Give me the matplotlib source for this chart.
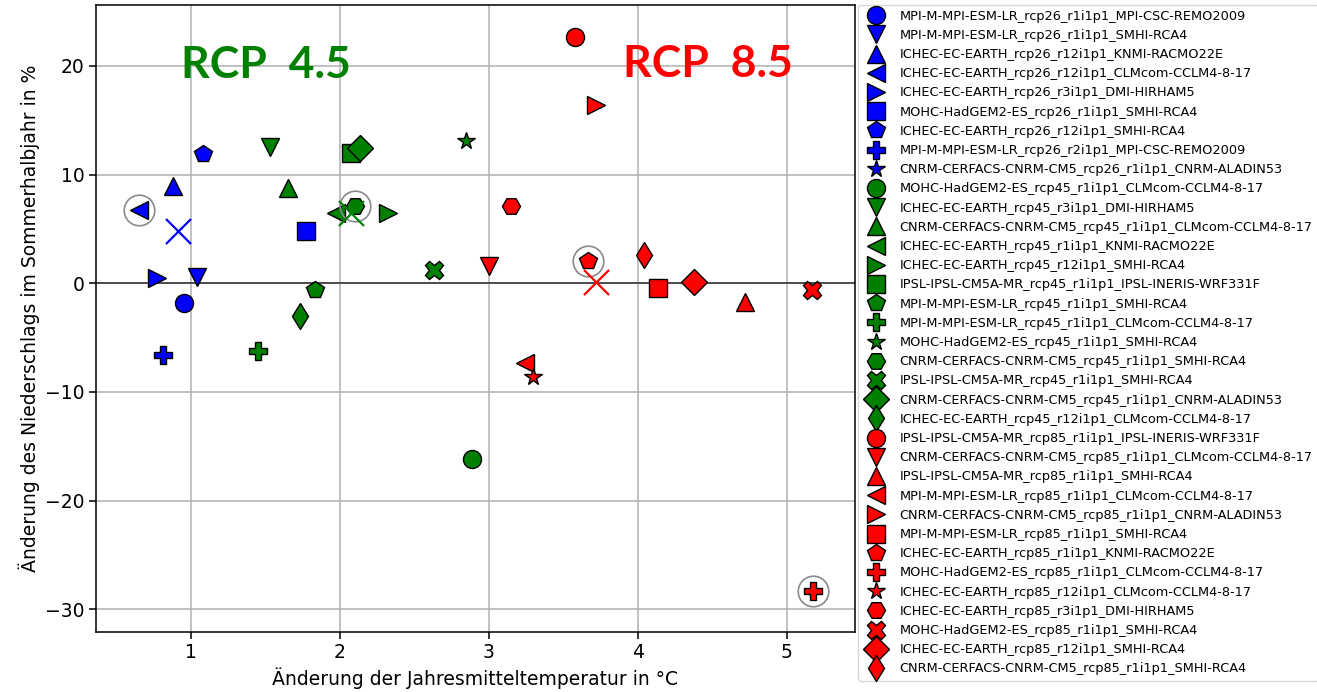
import numpy as np
import matplotlib.pyplot as plt

# RCP 2.6 (blau)
rcp26_models = [
    "MPI-M-MPI-ESM-LR_rcp26_r1i1p1_MPI-CSC-REMO2009",
    "MPI-M-MPI-ESM-LR_rcp26_r1i1p1_SMHI-RCA4",
    "ICHEC-EC-EARTH_rcp26_r12i1p1_KNMI-RACMO22E",
    "ICHEC-EC-EARTH_rcp26_r12i1p1_CLMcom-CCLM4-8-17",
    "ICHEC-EC-EARTH_rcp26_r3i1p1_DMI-HIRHAM5",
    "MOHC-HadGEM2-ES_rcp26_r1i1p1_SMHI-RCA4",
    "ICHEC-EC-EARTH_rcp26_r12i1p1_SMHI-RCA4",
    "MPI-M-MPI-ESM-LR_rcp26_r2i1p1_MPI-CSC-REMO2009",
    "CNRM-CERFACS-CNRM-CM5_rcp26_r1i1p1_CNRM-ALADIN53",
]
rcp26_dT = [0.95, 1.04, 0.88, 0.65, 0.775, 1.77, 1.08, 0.81, 0.91]
rcp26_dP = [-1.85, 0.6, 8.95, 6.7, 0.52, 4.76, 11.85, -6.65, 28.0]

# RCP 4.5 (gruen)
rcp45_models = [
    "MOHC-HadGEM2-ES_rcp45_r1i1p1_CLMcom-CCLM4-8-17",
    "ICHEC-EC-EARTH_rcp45_r3i1p1_DMI-HIRHAM5",
    "CNRM-CERFACS-CNRM-CM5_rcp45_r1i1p1_CLMcom-CCLM4-8-17",
    "ICHEC-EC-EARTH_rcp45_r1i1p1_KNMI-RACMO22E",
    "ICHEC-EC-EARTH_rcp45_r12i1p1_SMHI-RCA4",
    "IPSL-IPSL-CM5A-MR_rcp45_r1i1p1_IPSL-INERIS-WRF331F",
    "MPI-M-MPI-ESM-LR_rcp45_r1i1p1_SMHI-RCA4",
    "MPI-M-MPI-ESM-LR_rcp45_r1i1p1_CLMcom-CCLM4-8-17",
    "MOHC-HadGEM2-ES_rcp45_r1i1p1_SMHI-RCA4",
    "CNRM-CERFACS-CNRM-CM5_rcp45_r1i1p1_SMHI-RCA4",
    "IPSL-IPSL-CM5A-MR_rcp45_r1i1p1_SMHI-RCA4",
    "CNRM-CERFACS-CNRM-CM5_rcp45_r1i1p1_CNRM-ALADIN53",
    "ICHEC-EC-EARTH_rcp45_r12i1p1_CLMcom-CCLM4-8-17",
]
rcp45_dT = [2.89, 1.53, 1.65, 1.975, 2.32, 2.075, 1.835, 1.45, 2.85, 2.10, 2.63, 2.135, 1.735]
rcp45_dP = [-16.2, 12.5, 8.75, 6.5, 6.5, 11.95, -0.6, -6.2, 13.1, 7.15, 1.2, 12.45, -3.0]

# RCP 8.5 (rot)
rcp85_models = [
    "IPSL-IPSL-CM5A-MR_rcp85_r1i1p1_IPSL-INERIS-WRF331F",
    "CNRM-CERFACS-CNRM-CM5_rcp85_r1i1p1_CLMcom-CCLM4-8-17",
    "IPSL-IPSL-CM5A-MR_rcp85_r1i1p1_SMHI-RCA4",
    "MPI-M-MPI-ESM-LR_rcp85_r1i1p1_CLMcom-CCLM4-8-17",
    "CNRM-CERFACS-CNRM-CM5_rcp85_r1i1p1_CNRM-ALADIN53",
    "MPI-M-MPI-ESM-LR_rcp85_r1i1p1_SMHI-RCA4",
    "ICHEC-EC-EARTH_rcp85_r1i1p1_KNMI-RACMO22E",
    "MOHC-HadGEM2-ES_rcp85_r1i1p1_CLMcom-CCLM4-8-17",
    "ICHEC-EC-EARTH_rcp85_r12i1p1_CLMcom-CCLM4-8-17",
    "ICHEC-EC-EARTH_rcp85_r3i1p1_DMI-HIRHAM5",
    "MOHC-HadGEM2-ES_rcp85_r1i1p1_SMHI-RCA4",
    "ICHEC-EC-EARTH_rcp85_r12i1p1_SMHI-RCA4",
    "CNRM-CERFACS-CNRM-CM5_rcp85_r1i1p1_SMHI-RCA4",
]
rcp85_dT = [3.58, 3.00, 4.72, 3.245, 3.72, 4.14, 3.665, 5.175, 3.30, 3.15, 5.17, 4.38, 4.045]
rcp85_dP = [22.65, 1.6, -1.7, -7.35, 16.4, -0.45, 2.0, -28.35, -8.6, 7.1, -0.6, 0.15, 2.6]

# hervorgehobene Modelle (Index je Szenario)
rcp26_marked = [3]
rcp45_marked = [9]
rcp85_marked = [6, 7]

markers = ['o', 'v', '^', '<', '>', 's', 'p', 'P', '*', 'H', 'X', 'D', 'd']

scenarios = [
    (rcp26_models, rcp26_dT, rcp26_dP, rcp26_marked, 'blue'),
    (rcp45_models, rcp45_dT, rcp45_dP, rcp45_marked, 'green'),
    (rcp85_models, rcp85_dT, rcp85_dP, rcp85_marked, 'red'),
]

fig = plt.figure(figsize=(13.17, 6.92), dpi=100)
ax = fig.add_axes([96 / 1317, 1 - 631.5 / 692, (855 - 96) / 1317, (631.5 - 5) / 692])

for names, dT, dP, marked, color in scenarios:
    for i, name in enumerate(names):
        ax.plot(dT[i], dP[i], linestyle='none', marker=markers[i], ms=13,
                color=color, mec='black', mew=1.0, label=name, zorder=3)

# Kreise um ausgewaehlte Modelle
for names, dT, dP, marked, color in scenarios:
    for i in marked:
        ax.plot(dT[i], dP[i], linestyle='none', marker='o', ms=22,
                mfc='none', mec='#8a8a8a', mew=1.2, zorder=4)

# Median je Szenario
for names, dT, dP, marked, color in scenarios:
    ax.plot(np.median(dT), np.median(dP), linestyle='none', marker='x', ms=18,
            mew=1.6, color=color, zorder=5)

ax.axhline(0, color='#444444', lw=1.3, zorder=2)

ax.text(0.93, 18.85, "RCP  4.5", color='green', fontsize=32, fontweight='bold',
        family='Lato', ha='left', va='baseline')
ax.text(3.905, 18.95, "RCP  8.5", color='red', fontsize=32, fontweight='bold',
        family='Lato', ha='left', va='baseline')

ax.set_xlim(0.362, 5.46)
ax.set_ylim(-32.05, 25.6)
ax.set_xticks([1, 2, 3, 4, 5])
ax.set_yticks([-30, -20, -10, 0, 10, 20])
ax.grid(True, color='#b0b0b0', lw=1.1)
ax.set_axisbelow(True)
ax.tick_params(labelsize=13.5, length=4.7, width=1.1)
for sp in ax.spines.values():
    sp.set_linewidth(1.1)
ax.set_xlabel("Änderung der Jahresmitteltemperatur in °C", fontsize=13.5)
ax.set_ylabel("Änderung des Niederschlags im Sommerhalbjahr in %", fontsize=13.5)

fig.legend(loc='upper left', bbox_to_anchor=(858 / 1317, 1 - 4.5 / 692),
           numpoints=1, fontsize=9.3, labelspacing=0.48, borderaxespad=0)

fig.savefig('out.png', dpi=100)
